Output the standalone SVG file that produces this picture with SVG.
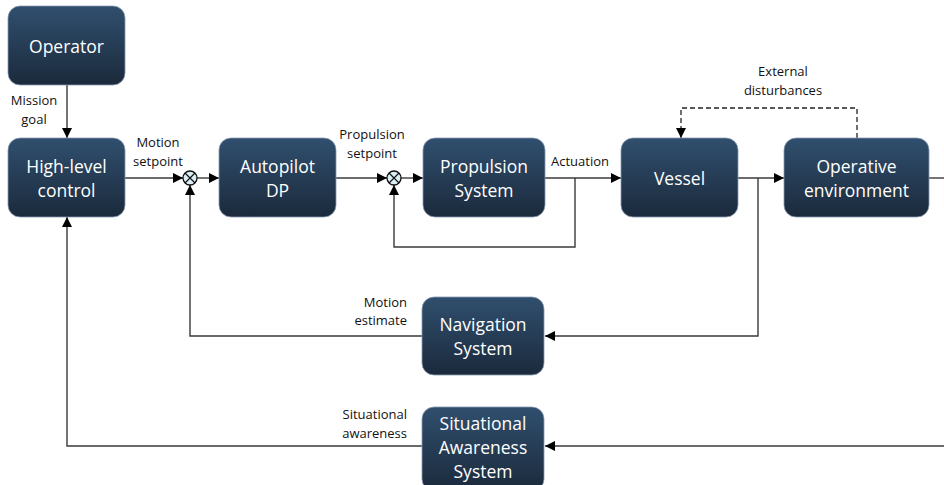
<svg xmlns="http://www.w3.org/2000/svg" width="944" height="485" viewBox="0 0 944 485">
<defs>
  <linearGradient id="nodeFill" x1="0" y1="0" x2="0" y2="1">
    <stop offset="0" stop-color="#304f6e"/>
    <stop offset="1" stop-color="#1b2a3c"/>
  </linearGradient>
  <marker id="arrow" viewBox="0 0 10 10" refX="10" refY="5" markerWidth="10" markerHeight="10" markerUnits="userSpaceOnUse" orient="auto">
    <path d="M0,0 L10,5 L0,10 Z" fill="#000"/>
  </marker>
</defs>
<style>
  .node rect { fill: url(#nodeFill); stroke: #8a9bb0; stroke-width: 0.8; }
  .node text { fill: #ffffff; font-family: "Open Sans", "Liberation Sans", sans-serif; font-size: 17.5px; text-anchor: middle; dominant-baseline: central; }
  .wire { fill: none; stroke: #3a3a3a; stroke-width: 1.4; }
  .dash { fill: none; stroke: #222; stroke-width: 1.3; stroke-dasharray: 5 3; }
  .lbl { fill: #111; font-family: "Open Sans", "Liberation Sans", sans-serif; font-size: 13px; text-anchor: middle; }
  .lbl-r { text-anchor: end; }
  .sum circle { fill: #dbeef5; stroke: #111; stroke-width: 1.3; }
  .sum path { stroke: #111; stroke-width: 1.2; }
</style>

<!-- connectors -->
<g id="connectors">
  <path class="wire" d="M67,85 V138" marker-end="url(#arrow)"/>
  <path class="wire" d="M125,178 H183" marker-end="url(#arrow)"/>
  <path class="wire" d="M197,178 H219" marker-end="url(#arrow)"/>
  <path class="wire" d="M336,178 H387" marker-end="url(#arrow)"/>
  <path class="wire" d="M401,178 H423" marker-end="url(#arrow)"/>
  <path class="wire" d="M545,178 H621" marker-end="url(#arrow)"/>
  <path class="wire" d="M575,178 V247 H394 V185" marker-end="url(#arrow)"/>
  <path class="wire" d="M738,178 H784" marker-end="url(#arrow)"/>
  <path class="wire" d="M758,178 V336 H545" marker-end="url(#arrow)"/>
  <path class="wire" d="M422,336 H190 V185" marker-end="url(#arrow)"/>
  <path class="wire" d="M929,178 H944"/>
  <path class="wire" d="M944,446 H545" marker-end="url(#arrow)"/>
  <path class="wire" d="M422,446 H67 V217" marker-end="url(#arrow)"/>
  <path class="dash" d="M857,138 V108 H681 V138" marker-end="url(#arrow)"/>
</g>

<!-- summing junctions -->
<g id="sum1" class="sum">
  <circle cx="190" cy="178" r="7"/>
  <path d="M185,173 L195,183 M195,173 L185,183"/>
</g>
<g id="sum2" class="sum">
  <circle cx="394" cy="178" r="7"/>
  <path d="M389,173 L399,183 M399,173 L389,183"/>
</g>

<!-- nodes -->
<g id="operator" class="node">
  <rect x="8" y="6" width="117" height="79" rx="12"/>
  <text x="66.5" y="46">Operator</text>
</g>
<g id="high-level-control" class="node">
  <rect x="8" y="138" width="117" height="79" rx="12"/>
  <text x="66.5" y="166">High-level</text>
  <text x="66.5" y="190">control</text>
</g>
<g id="autopilot-dp" class="node">
  <rect x="219" y="138" width="117" height="79" rx="12"/>
  <text x="277.5" y="166">Autopilot</text>
  <text x="277.5" y="190">DP</text>
</g>
<g id="propulsion-system" class="node">
  <rect x="423" y="138" width="122" height="79" rx="12"/>
  <text x="484" y="166">Propulsion</text>
  <text x="484" y="190">System</text>
</g>
<g id="vessel" class="node">
  <rect x="621" y="138" width="117" height="79" rx="12"/>
  <text x="679.5" y="178">Vessel</text>
</g>
<g id="operative-environment" class="node">
  <rect x="784" y="138" width="145" height="79" rx="12"/>
  <text x="856.5" y="166">Operative</text>
  <text x="856.5" y="190">environment</text>
</g>
<g id="navigation-system" class="node">
  <rect x="422" y="297" width="122" height="78" rx="12"/>
  <text x="483" y="324">Navigation</text>
  <text x="483" y="348">System</text>
</g>
<g id="situational-awareness-system" class="node">
  <rect x="422" y="407" width="122" height="84" rx="12"/>
  <text x="483" y="423">Situational</text>
  <text x="483" y="447">Awareness</text>
  <text x="483" y="471">System</text>
</g>

<!-- signal labels -->
<g id="labels">
  <text class="lbl" x="34" y="105">Mission</text>
  <text class="lbl" x="34" y="124">goal</text>
  <text class="lbl" x="158" y="147">Motion</text>
  <text class="lbl" x="158" y="166">setpoint</text>
  <text class="lbl" x="372" y="139">Propulsion</text>
  <text class="lbl" x="372" y="158">setpoint</text>
  <text class="lbl" x="580" y="166">Actuation</text>
  <text class="lbl" x="783" y="76">External</text>
  <text class="lbl" x="783" y="95">disturbances</text>
  <text class="lbl lbl-r" x="407" y="307">Motion</text>
  <text class="lbl lbl-r" x="407" y="325">estimate</text>
  <text class="lbl lbl-r" x="407" y="419">Situational</text>
  <text class="lbl lbl-r" x="407" y="438">awareness</text>
</g>
</svg>
